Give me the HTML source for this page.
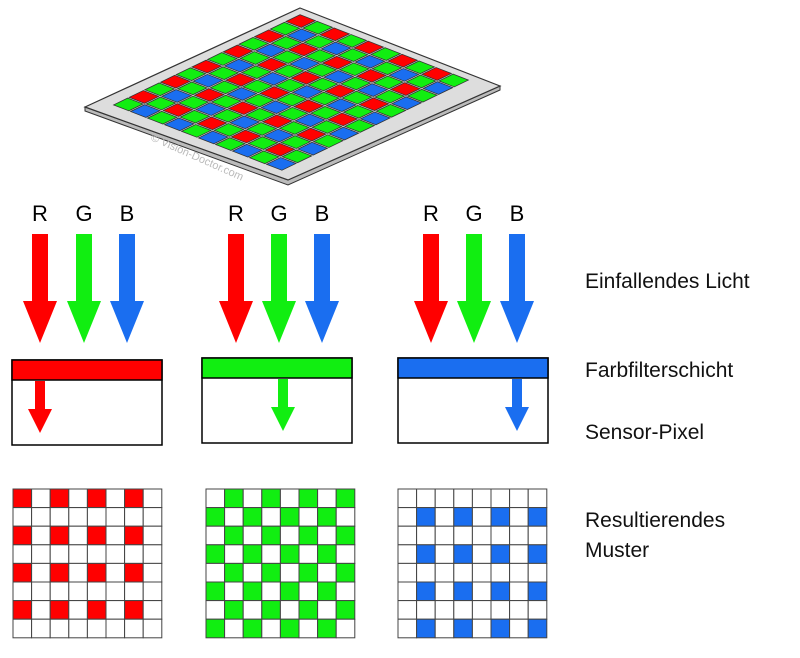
<!DOCTYPE html>
<html><head><meta charset="utf-8"><style>
body{margin:0;background:#fff;width:800px;height:653px;overflow:hidden;font-family:"Liberation Sans",sans-serif}
</style></head><body>
<svg width="800" height="653" xmlns="http://www.w3.org/2000/svg">
<!-- board -->
<polygon points="85,107 85,111 288,185 500,90 500,86 288,180" fill="#bbb" stroke="#333" stroke-width="1"/>
<polygon points="300,8 500,86 288,180 85,107" fill="#ddd" stroke="#333" stroke-width="1.2"/>
<g id="grid" transform="matrix(17,6.6,-15.67,7.58,300,14)"></g>
<text x="150" y="140" transform="rotate(24 150 140)" font-size="11" fill="#bbb">© Vision-Doctor.com</text>
<g id="arrows"></g>
<g font-size="22" text-anchor="middle" fill="#000">
<text x="40" y="221">R</text><text x="84" y="221">G</text><text x="127" y="221">B</text>
<text x="236" y="221">R</text><text x="279" y="221">G</text><text x="322" y="221">B</text>
<text x="431" y="221">R</text><text x="474" y="221">G</text><text x="517" y="221">B</text>
</g>
<!-- boxes -->
<rect x="12" y="360" width="150" height="85" fill="#fff" stroke="#000" stroke-width="1.5"/>
<rect x="12" y="360" width="150" height="20" fill="#f00" stroke="#000" stroke-width="1.5"/>
<rect x="202" y="358" width="150" height="85" fill="#fff" stroke="#000" stroke-width="1.5"/>
<rect x="202" y="358" width="150" height="20" fill="#1e1" stroke="#000" stroke-width="1.5"/>
<rect x="398" y="358" width="150" height="85" fill="#fff" stroke="#000" stroke-width="1.5"/>
<rect x="398" y="358" width="150" height="20" fill="#1a6ef0" stroke="#000" stroke-width="1.5"/>
<g id="small"></g>
<g id="pat"></g>
<g font-size="21" fill="#111">
<text x="585" y="288">Einfallendes Licht</text>
<text x="585" y="377">Farbfilterschicht</text>
<text x="585" y="439">Sensor-Pixel</text>
<text x="585" y="527">Resultierendes</text>
<text x="585" y="557">Muster</text>
</g>
</svg>
<script>
var NS="http://www.w3.org/2000/svg";
function el(p,t,a){var e=document.createElementNS(NS,t);for(var k in a)e.setAttribute(k,a[k]);p.appendChild(e);return e;}
var R="#f00",G="#1e1",B="#1a6ef0";
var g=document.getElementById("grid");
for(var i=0;i<10;i++)for(var j=0;j<12;j++){
 var c=(i%2==0&&j%2==0)?R:(i%2==1&&j%2==1)?B:G;
 el(g,"rect",{x:i+0.05,y:j+0.05,width:0.9,height:0.9,fill:c,stroke:"#333","stroke-width":0.06});
}
function arrow(p,cx,y0,y1,hw,sw,hl,col){
 var pts=[[cx-sw/2,y0],[cx+sw/2,y0],[cx+sw/2,y1-hl],[cx+hw/2,y1-hl],[cx,y1],[cx-hw/2,y1-hl],[cx-sw/2,y1-hl]].map(q=>q.join(",")).join(" ");
 el(p,"polygon",{points:pts,fill:col});
}
var a=document.getElementById("arrows");
[[40,84,127],[236,279,322],[431,474,517]].forEach(function(xs){
 arrow(a,xs[0],234,343,34,16,42,R);arrow(a,xs[1],234,343,34,16,42,G);arrow(a,xs[2],234,343,34,16,42,B);
});
var s=document.getElementById("small");
arrow(s,40,381,433,24,10,24,R);arrow(s,283,379,431,24,10,24,G);arrow(s,517,379,431,24,10,24,B);
var p=document.getElementById("pat");
function grid(x0,y0,f){var z=18.6;for(var r=0;r<8;r++)for(var c=0;c<8;c++){
 el(p,"rect",{x:x0+c*z,y:y0+r*z,width:z,height:z,fill:f(r,c)||"#fff",stroke:"#444","stroke-width":1});}}
grid(13,489,function(r,c){return (r%2==0&&c%2==0)?R:null;});
grid(206,489,function(r,c){return ((r+c)%2==1)?G:null;});
grid(398,489,function(r,c){return (r%2==1&&c%2==1)?B:null;});
</script>
</body></html>
